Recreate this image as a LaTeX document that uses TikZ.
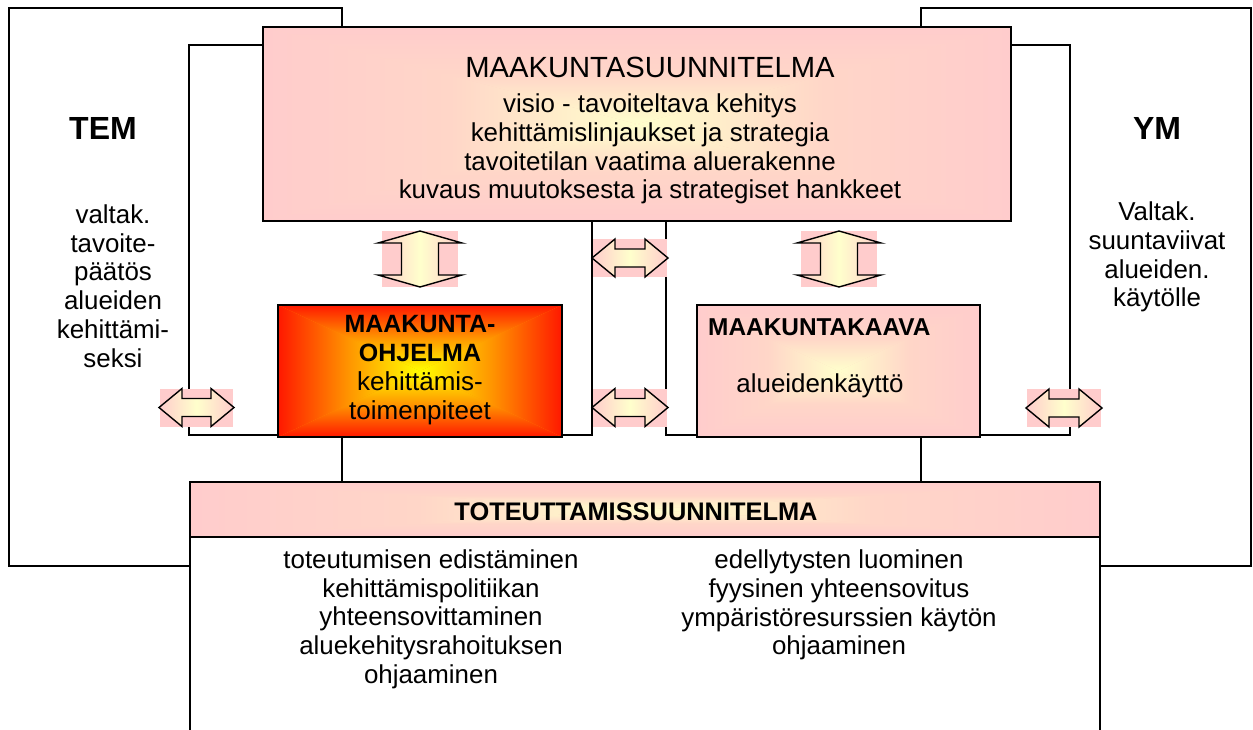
\documentclass[tikz,border=0pt]{standalone}
\usepackage{fontspec}
\setmainfont{Liberation Sans}
\usetikzlibrary{calc}
\definecolor{pinkc}{RGB}{255,204,204}
\definecolor{yelc}{RGB}{255,255,204}
\definecolor{redc}{RGB}{255,24,0}
\definecolor{orac}{RGB}{255,150,0}
\definecolor{yelb}{RGB}{255,255,0}
\definecolor{pinkmid}{RGB}{255,214,200}
% rectangular gradient: x1,y1,x2,y2,outer,middle,inner
\newcommand{\rectgrad}[7]{%
  \fill[#6] (#1,#2) rectangle (#3,#4);
  \shade[top color=#5, bottom color=#7, middle color=#6] (#1,#2) -- (#3,#2) -- ({(#1+#3)/2},{(#2+#4)/2}) -- cycle;
  \shade[top color=#7, bottom color=#5, middle color=#6] (#1,#4) -- (#3,#4) -- ({(#1+#3)/2},{(#2+#4)/2}) -- cycle;
  \shade[left color=#5, right color=#7, middle color=#6] (#1,#2) -- (#1,#4) -- ({(#1+#3)/2},{(#2+#4)/2}) -- cycle;
  \shade[left color=#7, right color=#5, middle color=#6] (#3,#2) -- (#3,#4) -- ({(#1+#3)/2},{(#2+#4)/2}) -- cycle;
}
% horizontal double block arrow: x1,x2,yc
\newcommand{\hdarrow}[3]{%
  \fill[pinkc] ({#1+1},{#3-19}) rectangle ({#2-1},{#3+19});
  \shade[blockarrow, left color=pinkc, right color=pinkc, middle color=yelc]
    (#1,#3) -- ({#1+23},{#3-19}) -- ({#1+23},{#3-9}) -- ({#2-23},{#3-9}) -- ({#2-23},{#3-19})
    -- (#2,#3) -- ({#2-23},{#3+19}) -- ({#2-23},{#3+9}) -- ({#1+23},{#3+9}) -- ({#1+23},{#3+19}) -- cycle;
}
% vertical double block arrow: xc,y1,y2
\newcommand{\vdarrow}[3]{%
  \fill[pinkc] ({#1-38},#2) rectangle ({#1+38},#3);
  \shade[blockarrow, left color=pinkc, right color=pinkc, middle color=yelc]
    (#1,#2) -- ({#1+42},{#2+12}) -- ({#1+18.5},{#2+12}) -- ({#1+18.5},{#3-12}) -- ({#1+42},{#3-12})
    -- (#1,#3) -- ({#1-42},{#3-12}) -- ({#1-18.5},{#3-12}) -- ({#1-18.5},{#2+12}) -- ({#1-42},{#2+12}) -- cycle;
}
\begin{document}
\begin{tikzpicture}[x=1pt,y=-1pt,
  frame/.style={draw=black, line width=2pt, fill=white, inner sep=0pt, outer sep=0pt, anchor=north west},
  mainbox/.style={draw=black, line width=2.6pt, inner sep=0pt, outer sep=0pt, anchor=north west},
  blockarrow/.style={draw=black, line width=1.4pt, line join=miter},
  txt/.style={inner sep=0pt, align=center, font=\fontsize{25.9}{28.7}\selectfont},
  bigtxt/.style={inner sep=0pt, align=center, font=\fontsize{29.2}{32}\selectfont},
  headtxt/.style={inner sep=0pt, font=\bfseries\fontsize{25.4}{29}\selectfont},
  mintxt/.style={inner sep=0pt, align=center, font=\bfseries\fontsize{32}{36}\selectfont}]
\useasboundingbox (0,0) rectangle (1253,729);
\fill[white] (0,0) rectangle (1253,729);

% ministry frames
\node[frame, minimum width=333pt, minimum height=558pt] (tem) at (9,8) {};
\node[frame, minimum width=330pt, minimum height=558pt] (ym) at (921,8) {};
% inner frames
\node[frame, minimum width=403pt, minimum height=390pt] (inl) at (189,45) {};
\node[frame, minimum width=404pt, minimum height=390pt] (inr) at (666,45) {};

% ministry texts
\node[mintxt] (temt) at (103,128) {TEM};
\node[txt] (temb) at (113,286) {valtak.\\tavoite-\\päätös\\alueiden\\kehittämi-\\seksi};
\node[mintxt] (ymt) at (1157,128) {YM};
\node[txt] (ymb) at (1157,257) {Valtak.\\suuntaviivat\\alueiden.\\käytölle};

% Maakuntasuunnitelma
\rectgrad{263}{27}{1011}{221}{pinkc}{pinkmid}{yelc}
\node[mainbox, minimum width=748pt, minimum height=194pt] (ms) at (263,27) {};
\node[bigtxt] (mst) at (650,67) {MAAKUNTASUUNNITELMA};
\node[txt] (msb) at (650,149) {visio - tavoiteltava kehitys\\kehittämislinjaukset ja strategia\\tavoitetilan vaatima aluerakenne\\kuvaus muutoksesta ja strategiset hankkeet};

% block arrows
\vdarrow{420}{231}{287}
\vdarrow{839}{231}{287}
\hdarrow{592}{668}{258}
\hdarrow{592}{668}{407.5}
\hdarrow{159}{234}{407.5}
\hdarrow{1026}{1102}{408}

% Maakuntaohjelma
\rectgrad{278}{305}{562}{437}{redc}{orac}{yelb}
\node[mainbox, minimum width=284pt, minimum height=132pt] (mo) at (278,305) {};
\node[inner sep=0pt, align=center, font=\fontsize{26}{29}\selectfont] (mot) at (420,370) {\textbf{\fontsize{25}{29}\selectfont MAAKUNTA-}\\\textbf{\fontsize{25}{29}\selectfont OHJELMA}\\kehittämis-\\toimenpiteet};

% Maakuntakaava
\rectgrad{697}{305}{980}{437}{pinkc}{pinkmid}{yelc}
\node[mainbox, minimum width=283pt, minimum height=132pt] (mk) at (697,305) {};
\node[inner sep=0pt, anchor=west, font=\bfseries\fontsize{24.4}{29}\selectfont] (mkt) at (708,327) {MAAKUNTAKAAVA};
\node[txt] (mkb) at (820,386) {alueidenkäyttö};

% Toteuttamissuunnitelma
\node[mainbox, fill=white, minimum width=910pt, minimum height=290pt] (tot) at (190,482) {};
\rectgrad{190}{482}{1100}{537}{pinkc}{pinkmid}{yelc}
\node[mainbox, minimum width=910pt, minimum height=55pt] (toth) at (190,482) {};
\node[headtxt] (tott) at (636,512) {TOTEUTTAMISSUUNNITELMA};
\node[txt] (totl) at (431,619) {toteutumisen edistäminen\\kehittämispolitiikan\\yhteensovittaminen\\aluekehitysrahoituksen\\ohjaaminen};
\node[txt] (totr) at (839,605) {edellytysten luominen\\fyysinen yhteensovitus\\ympäristöresurssien käytön\\ohjaaminen};
\end{tikzpicture}
\end{document}
